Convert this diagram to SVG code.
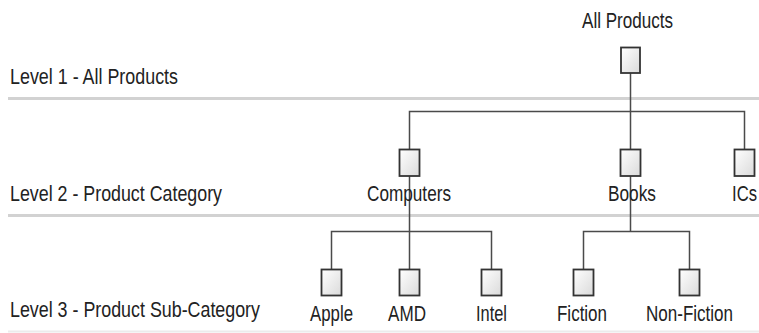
<svg xmlns="http://www.w3.org/2000/svg" width="759" height="333" viewBox="0 0 759 333">
<style>
.t{font-family:"Liberation Sans",Arial,sans-serif;font-size:22px;fill:#222222}
.box{fill:url(#g);stroke:#333333;stroke-width:1.8}
.sep{stroke:#d2d2d2;stroke-width:3}
.c{stroke:#4a4a4a;stroke-width:1.5;fill:none}
</style>
<defs>
<linearGradient id="g" x1="0" y1="0" x2="1" y2="1">
<stop offset="0" stop-color="#ffffff"/>
<stop offset="1" stop-color="#dadada"/>
</linearGradient>
</defs>
<rect width="759" height="333" fill="#ffffff"/>
<g id="levels">
<line class="sep" x1="8" y1="98.5" x2="759" y2="98.5"/>
<line class="sep" x1="8" y1="215.5" x2="759" y2="215.5"/>
<line x1="8" y1="331.5" x2="759" y2="331.5" stroke="#ececec" stroke-width="2"/>
<text class="t" x="10" y="84" textLength="168" lengthAdjust="spacingAndGlyphs">Level 1 - All Products</text>
<text class="t" x="10" y="201" textLength="212" lengthAdjust="spacingAndGlyphs">Level 2 - Product Category</text>
<text class="t" x="10" y="317" textLength="250" lengthAdjust="spacingAndGlyphs">Level 3 - Product Sub-Category</text>
</g>
<g id="connectors">
<path class="c" d="M630.5 73V149M409.5 149V111.5H744.5V149"/>
<path class="c" d="M409.5 176V269M331.5 269V231.5H491.5V269"/>
<path class="c" d="M630.5 176V231.5M583.5 269V231.5H689.5V269"/>
</g>
<g id="all-products">
<rect class="box" x="621" y="47.5" width="19" height="25.5"/>
<text class="t" x="582" y="28" textLength="91" lengthAdjust="spacingAndGlyphs">All Products</text>
</g>
<g id="computers">
<rect class="box" x="399.5" y="149.5" width="20" height="26.5"/>
<text class="t" x="367" y="201" textLength="84" lengthAdjust="spacingAndGlyphs">Computers</text>
</g>
<g id="books">
<rect class="box" x="620.5" y="149.5" width="20" height="26.5"/>
<text class="t" x="608" y="201" textLength="48" lengthAdjust="spacingAndGlyphs">Books</text>
</g>
<g id="ics">
<rect class="box" x="734.5" y="149.5" width="20" height="26.5"/>
<text class="t" x="732" y="201" textLength="25" lengthAdjust="spacingAndGlyphs">ICs</text>
</g>
<g id="apple">
<rect class="box" x="321.5" y="269.5" width="20" height="26"/>
<text class="t" x="310" y="321" textLength="43" lengthAdjust="spacingAndGlyphs">Apple</text>
</g>
<g id="amd">
<rect class="box" x="399.5" y="269.5" width="20" height="26"/>
<text class="t" x="388" y="321" textLength="38" lengthAdjust="spacingAndGlyphs">AMD</text>
</g>
<g id="intel">
<rect class="box" x="481.5" y="269.5" width="20" height="26"/>
<text class="t" x="476" y="321" textLength="31" lengthAdjust="spacingAndGlyphs">Intel</text>
</g>
<g id="fiction">
<rect class="box" x="573.5" y="269.5" width="20" height="26"/>
<text class="t" x="557" y="321" textLength="50" lengthAdjust="spacingAndGlyphs">Fiction</text>
</g>
<g id="non-fiction">
<rect class="box" x="679.5" y="269.5" width="20" height="26"/>
<text class="t" x="646" y="321" textLength="87" lengthAdjust="spacingAndGlyphs">Non-Fiction</text>
</g>
</svg>
